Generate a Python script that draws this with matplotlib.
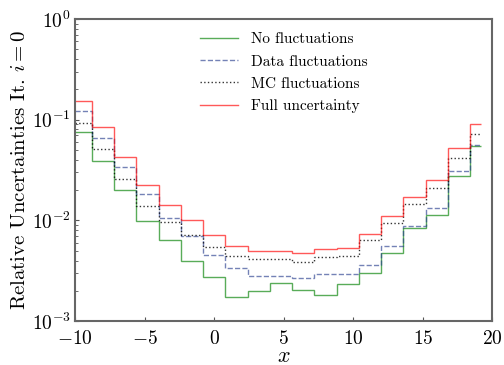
import numpy as np
import matplotlib
matplotlib.use('Agg')
import matplotlib.pyplot as plt

plt.rcParams['font.family'] = 'serif'
plt.rcParams['font.serif'] = ['cmr10', 'DejaVu Serif']
plt.rcParams['mathtext.fontset'] = 'cm'
plt.rcParams['axes.formatter.use_mathtext'] = True
plt.rcParams['axes.unicode_minus'] = True

# bin edges of the uncertainty histograms
EDGES = [-10.0, -8.8, -7.2, -5.6, -4.0, -2.4, -0.8, 0.8, 2.4, 4.0, 5.6,
         7.2, 8.8, 10.4, 12.0, 13.6, 15.2, 16.8, 18.4, 19.2]

NO_FLUCT = [0.0755, 0.0393, 0.0201, 0.00984, 0.00638, 0.00393, 0.00276,
            0.00173, 0.00198, 0.00242, 0.00203, 0.00184, 0.00232, 0.00301,
            0.00475, 0.00834, 0.01128, 0.0279, 0.0544]
DATA_FLUCT = [0.123, 0.0659, 0.0343, 0.0184, 0.01063, 0.0070, 0.00455,
              0.00335, 0.00279, 0.00279, 0.00271, 0.00297, 0.00292, 0.00364,
              0.00562, 0.00873, 0.01324, 0.0311, 0.0557]
MC_FLUCT = [0.0919, 0.0513, 0.0259, 0.0139, 0.00962, 0.0072, 0.00549,
            0.00443, 0.00411, 0.00411, 0.00387, 0.00437, 0.00443, 0.00638,
            0.00940, 0.01473, 0.0211, 0.0418, 0.0727]
FULL_UNC = [0.154, 0.0839, 0.0430, 0.0227, 0.0143, 0.01007, 0.0071,
            0.00557, 0.00497, 0.00497, 0.00475, 0.00525, 0.00528, 0.00738,
            0.01104, 0.0170, 0.0251, 0.0520, 0.0913]

fig = plt.figure(figsize=(5.04, 3.65), dpi=100)
ax = fig.add_axes([0.149, 0.12, 0.828, 0.828])

ax.stairs(NO_FLUCT, EDGES, baseline=None, color='green', alpha=0.65,
          lw=1.0, label='No fluctuations')
ax.stairs(DATA_FLUCT, EDGES, baseline=None, color='#2a3f8f', alpha=0.65,
          lw=1.0, ls='--', label='Data fluctuations')
ax.stairs(MC_FLUCT, EDGES, baseline=None, color='black', alpha=0.8,
          lw=1.0, ls=':', label='MC fluctuations')
ax.stairs(FULL_UNC, EDGES, baseline=None, color='red', alpha=0.65,
          lw=1.0, label='Full uncertainty')

ax.set_yscale('log')
ax.set_xlim(-10, 20)
ax.set_ylim(1e-3, 1)
ax.set_xlabel('$x$', fontsize=16, labelpad=-1)
ax.set_ylabel('Relative Uncertainties It. $i=0$', fontsize=15, labelpad=2)
ax.tick_params(which='both', direction='in', labelsize=14, color='#555555')
ax.tick_params(axis='y', pad=3)
ax.tick_params(axis='x', pad=6)
ax.tick_params(which='major', length=3)
ax.tick_params(which='minor', length=2)
for spine in ax.spines.values():
    spine.set_color('#666666')
    spine.set_linewidth(1.5)

ax.legend(loc='upper center', bbox_to_anchor=(0.5, 1.0), frameon=False,
          fontsize=11, handlelength=2.5, labelspacing=0.55)

plt.savefig('out.png', dpi=100)
